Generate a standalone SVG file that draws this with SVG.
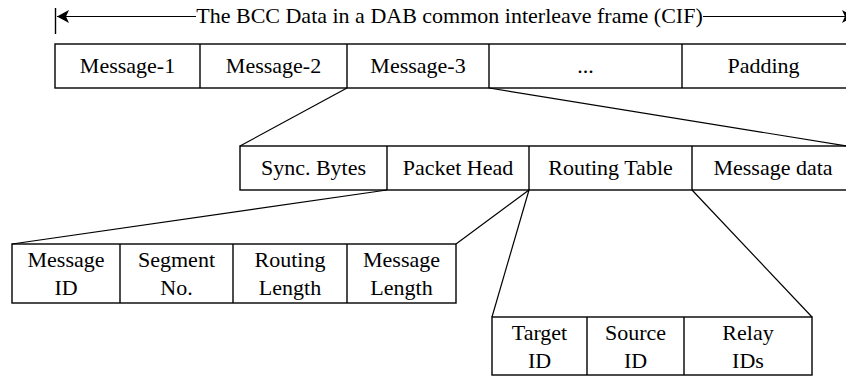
<svg xmlns="http://www.w3.org/2000/svg" width="846" height="376" viewBox="0 0 846 376">
<style>
.box{fill:#fff;stroke:#000;stroke-width:1.4}
.div{stroke:#000;stroke-width:1.4}
.con{stroke:#000;stroke-width:1.2;fill:none}
text{font-family:"Liberation Serif","Times New Roman",serif;font-size:22px;fill:#000;text-anchor:middle}
</style>
<defs>
<path id="ah" d="M0,0 L12,-6.5 L9,0 L12,6.5 Z" fill="#000"/>
</defs>
<rect width="846" height="376" fill="#fff"/>
<g id="title">
<line x1="55.5" y1="8" x2="55.5" y2="34" class="div"/>
<line x1="57" y1="16.5" x2="196" y2="16.5" class="con"/>
<line x1="703" y1="16.5" x2="850" y2="16.5" class="con"/>
<use href="#ah" x="57" y="16.5"/>
<use href="#ah" transform="translate(854,16.5) scale(-1,1)"/>
<text x="449.5" y="23">The BCC Data in a DAB common interleave frame (CIF)</text>
</g>
<g id="cif">
<rect x="55" y="44" width="795" height="44" class="box"/>
<line x1="200" y1="44" x2="200" y2="88" class="div"/>
<line x1="347" y1="44" x2="347" y2="88" class="div"/>
<line x1="489" y1="44" x2="489" y2="88" class="div"/>
<line x1="682" y1="44" x2="682" y2="88" class="div"/>
<text x="127.5" y="73">Message-1</text>
<text x="273.5" y="73">Message-2</text>
<text x="418" y="73">Message-3</text>
<text x="585.5" y="73">...</text>
<text x="763.5" y="73">Padding</text>
</g>
<g id="message">
<rect x="240" y="146" width="612" height="44" class="box"/>
<line x1="387" y1="146" x2="387" y2="190" class="div"/>
<line x1="529" y1="146" x2="529" y2="190" class="div"/>
<line x1="692" y1="146" x2="692" y2="190" class="div"/>
<text x="313.5" y="175">Sync. Bytes</text>
<text x="458" y="175">Packet Head</text>
<text x="610.5" y="175">Routing Table</text>
<text x="773" y="175">Message data</text>
</g>
<g id="packethead">
<rect x="12" y="244" width="444" height="59" class="box"/>
<line x1="120" y1="244" x2="120" y2="303" class="div"/>
<line x1="233" y1="244" x2="233" y2="303" class="div"/>
<line x1="347" y1="244" x2="347" y2="303" class="div"/>
<text x="66" y="267">Message</text><text x="66" y="295">ID</text>
<text x="176.5" y="267">Segment</text><text x="176.5" y="295">No.</text>
<text x="290" y="267">Routing</text><text x="290" y="295">Length</text>
<text x="401.5" y="267">Message</text><text x="401.5" y="295">Length</text>
</g>
<g id="routingtable">
<rect x="492" y="317" width="320" height="58" class="box"/>
<line x1="587" y1="317" x2="587" y2="375" class="div"/>
<line x1="684" y1="317" x2="684" y2="375" class="div"/>
<text x="539.5" y="340">Target</text><text x="539.5" y="368">ID</text>
<text x="635.5" y="340">Source</text><text x="635.5" y="368">ID</text>
<text x="748" y="340">Relay</text><text x="748" y="368">IDs</text>
</g>
<g id="connectors">
<line x1="347" y1="88" x2="240" y2="146" class="con"/>
<line x1="489" y1="88" x2="850" y2="146.5" class="con"/>
<line x1="387" y1="190" x2="12" y2="244" class="con"/>
<line x1="529" y1="190" x2="456" y2="244" class="con"/>
<line x1="529" y1="190" x2="492" y2="317" class="con"/>
<line x1="692" y1="190" x2="812" y2="317" class="con"/>
</g>
</svg>
